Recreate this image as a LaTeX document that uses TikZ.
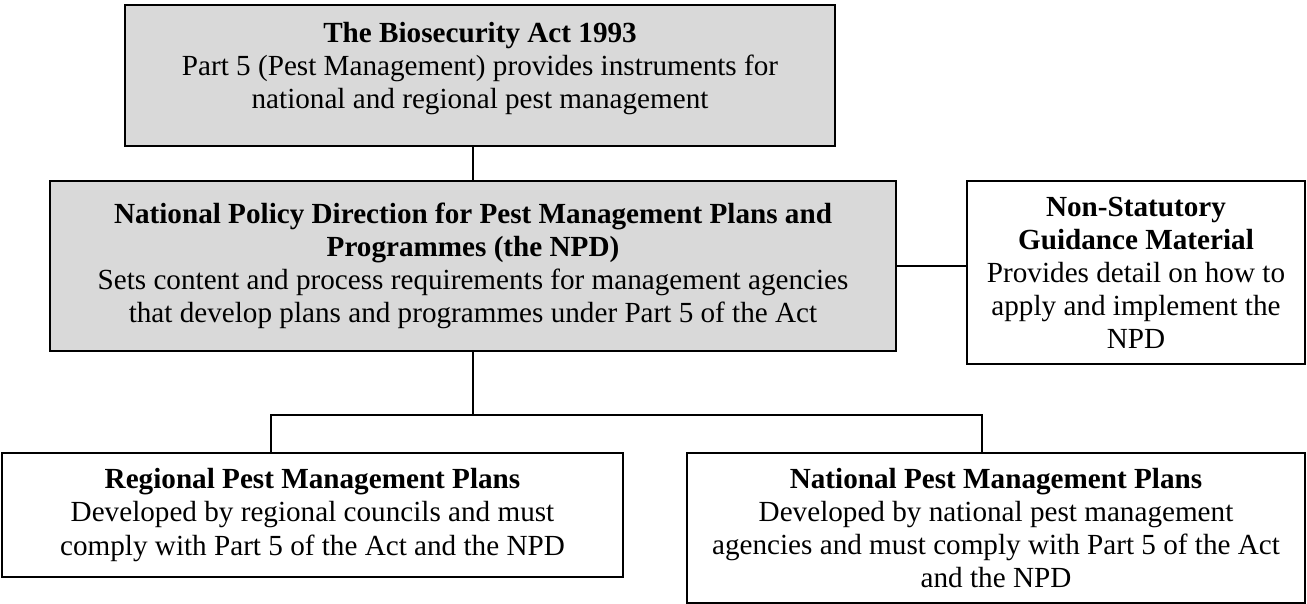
\documentclass[tikz,border=0pt]{standalone}
\usepackage{fontspec}
\setmainfont{Liberation Serif}
\definecolor{boxgrey}{RGB}{217,217,217}

\begin{document}
\begin{tikzpicture}[x=0.02cm,y=-0.02cm,
  every node/.style={font=\fontsize{16.6}{18.8}\selectfont},
  box/.style={draw,line width=0.9pt,align=center,inner sep=2pt},
  grey box/.style={box,fill=boxgrey}]
  \useasboundingbox (0,0) rectangle (1307,604);
  \node[grey box,minimum width=14.2cm,minimum height=2.82cm,text depth=12pt] (act) at (480,75.5)
    {\textbf{The Biosecurity Act 1993}\\
     Part 5 (Pest Management) provides instruments for\\
     national and regional pest management};
  \node[grey box,minimum width=16.92cm,minimum height=3.4cm] (npd) at (473,266)
    {\textbf{National Policy Direction for Pest Management Plans and}\\
     \textbf{Programmes (the NPD)}\\
     Sets content and process requirements for management agencies\\
     that develop plans and programmes under Part 5 of the Act};
  \node[box,minimum width=6.76cm,minimum height=3.66cm] (guide) at (1136,272.5)
    {\textbf{Non-Statutory}\\
     \textbf{Guidance Material}\\
     Provides detail on how to\\
     apply and implement the\\
     NPD};
  \node[box,minimum width=12.42cm,minimum height=2.48cm] (rpmp) at (312.5,515)
    {\textbf{Regional Pest Management Plans}\\
     Developed by regional councils and must\\
     comply with Part 5 of the Act and the NPD};
  \node[box,minimum width=12.36cm,minimum height=3cm] (npmp) at (996,528)
    {\textbf{National Pest Management Plans}\\
     Developed by national pest management\\
     agencies and must comply with Part 5 of the Act\\
     and the NPD};
  % branch points under the NPD
  \coordinate (fork) at (473,415);
  \coordinate (forkL) at (271,415);
  \coordinate (forkR) at (982,415);
  \draw[line width=0.9pt] (npd.north) -- (npd.north |- act.south);
  \draw[line width=0.9pt] (npd.east) -- (npd.east -| guide.west);
  \draw[line width=0.9pt] (npd.south) -- (fork);
  \draw[line width=0.9pt] (forkL |- rpmp.north) -- (forkL) -- (forkR) -- (forkR |- npmp.north);
\end{tikzpicture}
\end{document}
